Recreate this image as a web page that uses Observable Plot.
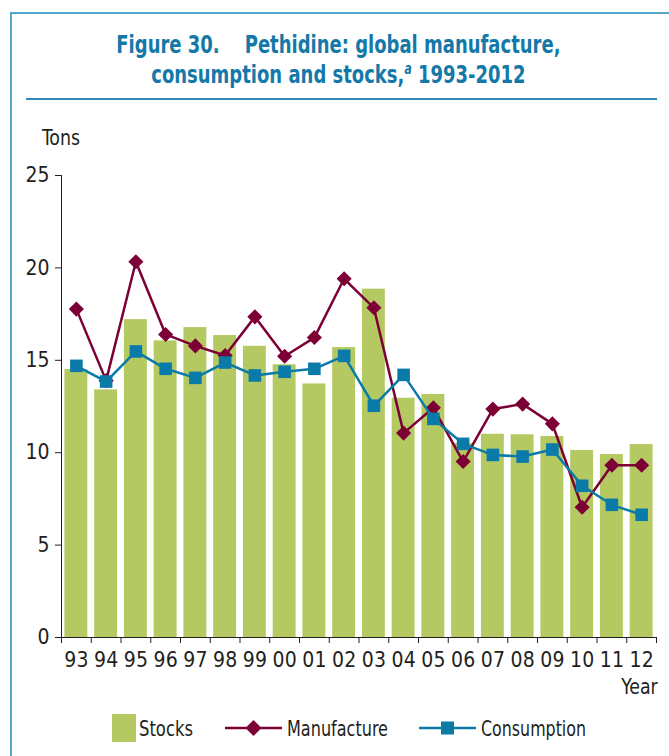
<!DOCTYPE html>
<html>
<head>
<meta charset="utf-8">
<script src="https://cdn.jsdelivr.net/npm/d3@7"></script>
<script src="https://cdn.jsdelivr.net/npm/@observablehq/plot@0.6"></script>
<style>
  html, body { margin: 0; padding: 0; background: #fff; }
  #wrap { position: relative; width: 669px; height: 756px; overflow: hidden; background: #fff;
          font-family: "Liberation Sans Narrow", "DejaVu Sans Condensed", "Arial Narrow", sans-serif; color: #231f20; }
  .abs { position: absolute; white-space: nowrap; }
  #borderL { left: 10px; top: 12px; width: 2px; height: 760px; background: #55a8cc; }
  #borderT { left: 10px; top: 12px; width: 680px; height: 2px; background: #55a8cc; }
  #sep { left: 26px; top: 98px; width: 631px; height: 2px; background: #2f8cb6; }
  #title { left: 4px; width: 669px; top: 30px; text-align: center; font-weight: bold; font-size: 25px;
           line-height: 30px; color: #1479a8; transform: scaleX(0.8); transform-origin: 334px 0; }
  #title sup { font-style: italic; font-size: 15px; vertical-align: 9px; line-height: 0; }
  #chart { left: 0; top: 110px; }
  .lbl { font-size: 21px; transform: scaleX(0.92); }
</style>
</head>
<body>
<div id="wrap">
  <div class="abs" id="borderL"></div>
  <div class="abs" id="borderT"></div>
  <div class="abs" id="title">Figure 30.&nbsp;&nbsp;&nbsp;&nbsp;Pethidine: global manufacture,<br>consumption and stocks,<sup>a</sup> 1993-2012</div>
  <div class="abs" id="sep"></div>
  <div class="abs lbl" id="tons" style="left:42px; top:126px; transform-origin: 0 0;">Tons</div>
  <div class="abs" id="chart"></div>
  <div class="abs lbl" id="year" style="right:11px; top:675px; transform-origin: 100% 0;">Year</div>
  <div class="abs" id="legend" style="left:0; top:710px; width:669px; height:36px;"></div>
</div>
<script>
const years = ["93","94","95","96","97","98","99","00","01","02","03","04","05","06","07","08","09","10","11","12"];
const stocks = [14.5,13.4,17.2,16.05,16.77,16.34,15.76,14.76,13.72,15.69,18.85,12.95,13.15,10.5,11.0,10.97,10.88,10.12,9.9,10.44];
const manufacture = [17.77,13.9,20.33,16.4,15.78,15.26,17.35,15.22,16.23,19.41,17.84,11.06,12.43,9.52,12.36,12.63,11.56,7.05,9.32,9.32];
const consumption = [14.7,13.85,15.48,14.54,14.05,14.88,14.18,14.38,14.54,15.24,12.54,14.21,11.83,10.48,9.88,9.79,10.17,8.21,7.18,6.64];
const yTicks = [0,5,10,15,20,25];

const colors = { stocks: "#b5c962", manufacture: "#7c0036", consumption: "#0a7aa8" };

const data = years.map((label, i) => ({ i, label, stocks: stocks[i], manufacture: manufacture[i], consumption: consumption[i] }));

const fontFamily = '"Liberation Sans Narrow", "DejaVu Sans Condensed", "Arial Narrow", sans-serif';

const plot = Plot.plot({
  width: 669,
  height: 600,
  marginTop: 65,
  marginBottom: 73,
  marginLeft: 61,
  marginRight: 13,
  style: { fontFamily, fontSize: "21px", color: "#231f20", background: "transparent", overflow: "visible" },
  x: { type: "linear", domain: [0, years.length] },
  y: { domain: [0, 25] },
  marks: [
    Plot.rectY(data, { x1: d => d.i + 0.115, x2: d => d.i + 0.885, y1: 0, y2: "stocks", fill: colors.stocks }),
    Plot.axisY({ ticks: yTicks, tickSize: 6, tickPadding: 6, label: null, stroke: "#231f20", fill: "#231f20" }),
    Plot.ruleX([0], { y1: 0, y2: 25, stroke: "#231f20", strokeWidth: 1 }),
    Plot.ruleY([0], { stroke: "#231f20", strokeWidth: 1 }),
    Plot.axisX({ ticks: d3.range(0, years.length + 1), tickSize: 6, tickFormat: () => "", label: null, stroke: "#231f20" }),
    Plot.axisX({ ticks: d3.range(years.length).map(i => i + 0.5), tickSize: 0, tickPadding: 15,
                 tickFormat: v => years[Math.floor(v)], label: null, fill: "#231f20" }),
    Plot.line(data, { x: d => d.i + 0.5, y: "manufacture", stroke: colors.manufacture, strokeWidth: 2.5 }),
    Plot.dot(data, { x: d => d.i + 0.5, y: "manufacture", symbol: "diamond2", r: 6.8, fill: colors.manufacture, stroke: "none" }),
    Plot.line(data, { x: d => d.i + 0.5, y: "consumption", stroke: colors.consumption, strokeWidth: 2.5 }),
    Plot.dot(data, { x: d => d.i + 0.5, y: "consumption", symbol: "square", r: 7.1, fill: colors.consumption, stroke: "none" })
  ]
});
document.getElementById("chart").appendChild(plot);

// Legend
const legendItems = [
  { name: "Stocks", type: "bar", color: colors.stocks, x: 112, tx: 139, tw: 54 },
  { name: "Manufacture", type: "diamond", color: colors.manufacture, x: 225, tx: 287, tw: 101 },
  { name: "Consumption", type: "square", color: colors.consumption, x: 419, tx: 481, tw: 105 }
];
const lsvg = d3.create("svg").attr("width", 669).attr("height", 40).style("overflow", "visible");
for (const it of legendItems) {
  const g = lsvg.append("g");
  if (it.type === "bar") {
    g.append("rect").attr("x", it.x).attr("y", 4).attr("width", 24).attr("height", 28).attr("fill", it.color);
  } else {
    g.append("line").attr("x1", it.x).attr("x2", it.x + 57).attr("y1", 18).attr("y2", 18)
      .attr("stroke", it.color).attr("stroke-width", 2.5);
    const cx = it.x + 28.5;
    if (it.type === "diamond") {
      g.append("path").attr("d", `M${cx},${18 - 8}L${cx + 8},18L${cx},${18 + 8}L${cx - 8},18Z`).attr("fill", it.color);
    } else {
      g.append("rect").attr("x", cx - 6.5).attr("y", 18 - 6.5).attr("width", 13).attr("height", 13).attr("fill", it.color);
    }
  }
  g.append("text").attr("x", it.tx).attr("y", 26).attr("font-size", 21).attr("font-family", fontFamily)
    .attr("textLength", it.tw).attr("lengthAdjust", "spacingAndGlyphs")
    .attr("fill", "#231f20").text(it.name);
}
document.getElementById("legend").appendChild(lsvg.node());
</script>
</body>
</html>
